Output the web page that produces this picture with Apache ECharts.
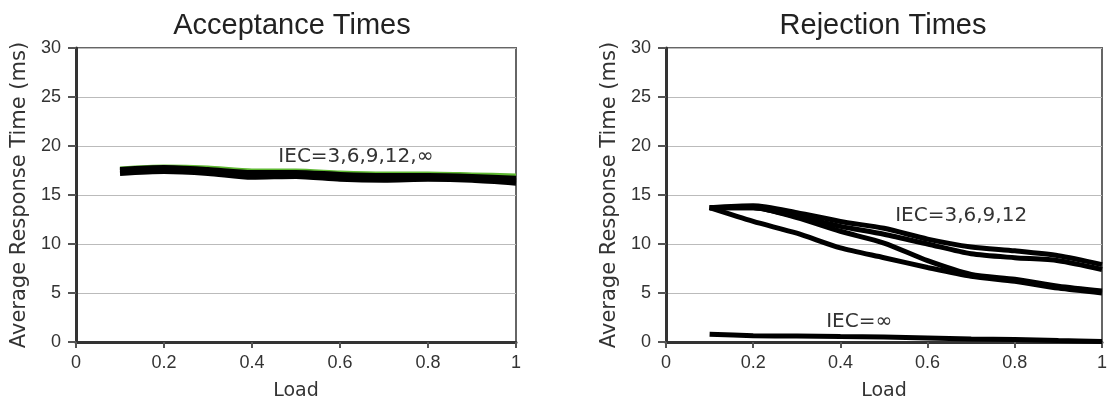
<!DOCTYPE html>
<html>
<head>
<meta charset="utf-8">
<script src="https://cdn.jsdelivr.net/npm/echarts@6/dist/echarts.min.js"></script>
<style>html,body{margin:0;padding:0;background:#fff;}#c{width:1110px;height:406px;}</style>
</head>
<body>
<div id="c"></div>
<script>
var loads = [0.1, 0.2, 0.3, 0.4, 0.5, 0.6, 0.7, 0.8, 0.9, 1.0];
var xTicks = [0, 0.2, 0.4, 0.6, 0.8, 1];
var yTicks = [0, 5, 10, 15, 20, 25, 30];

var accIEC3   = [17.5, 17.7, 17.5, 17.1, 17.2, 16.9, 16.8, 16.9, 16.8, 16.5];
var accIEC6   = [17.2, 17.4, 17.2, 16.8, 16.9, 16.6, 16.5, 16.6, 16.5, 16.2];
var accIEC9   = [17.6, 17.8, 17.6, 17.3, 17.3, 17.1, 17.0, 17.0, 16.9, 16.7];
var accIEC12  = [17.4, 17.6, 17.4, 17.0, 17.1, 16.8, 16.7, 16.8, 16.7, 16.4];
var accIECInf = [17.7, 17.9, 17.8, 17.5, 17.5, 17.3, 17.2, 17.2, 17.1, 17.0];

var rejIEC3   = [13.7, 13.9, 13.2, 12.3, 11.6, 10.5, 9.7, 9.3, 8.8, 7.9];
var rejIEC6   = [13.7, 13.7, 12.8, 11.8, 11.0, 10.0, 9.0, 8.6, 8.3, 7.4];
var rejIEC9   = [13.7, 13.7, 12.7, 11.3, 10.1, 8.3, 6.9, 6.4, 5.7, 5.2];
var rejIEC12  = [13.7, 12.3, 11.1, 9.6, 8.6, 7.6, 6.7, 6.2, 5.5, 5.0];
var rejIECInf = [0.8, 0.65, 0.6, 0.55, 0.5, 0.4, 0.3, 0.25, 0.15, 0.05];

var titles = ['Acceptance Times', 'Rejection Times'];
var xName = 'Load';
var yName = 'Average Response Time (ms)';
var labelAcc = 'IEC=3,6,9,12,\u221E';
var labelRej = 'IEC=3,6,9,12';
var labelRejInf = 'IEC=\u221E';

function pairs(ys) { return loads.map(function (x, i) { return [x, ys[i]]; }); }

var chart = echarts.init(document.getElementById('c'), null, {renderer: 'canvas'});

function xAxis(idx) {
  return {
    type: 'value', gridIndex: idx, min: 0, max: 1, interval: 0.2,
    name: xName, nameLocation: 'middle', nameGap: 40,
    nameTextStyle: {fontFamily: 'DejaVu Sans', fontSize: 19, color: '#333'},
    axisLine: {show: true, lineStyle: {color: '#333', width: 3}},
    axisTick: {show: true, inside: false, length: 6, lineStyle: {color: '#555', width: 2}},
    axisLabel: {fontFamily: 'Liberation Sans', fontSize: 18, color: '#333', margin: 12,
      formatter: function (v) { return xTicks.indexOf(+v.toFixed(1)) >= 0 ? String(+v.toFixed(1)) : ''; }},
    splitLine: {show: false}
  };
}
function yAxis(idx) {
  return {
    type: 'value', gridIndex: idx, min: 0, max: 30, interval: 5,
    name: yName, nameLocation: 'middle', nameGap: 46,
    nameTextStyle: {fontFamily: 'DejaVu Sans', fontSize: 21, color: '#333'},
    axisLine: {show: true, lineStyle: {color: '#333', width: 3}},
    axisTick: {show: true, length: 8, lineStyle: {color: '#555', width: 2}},
    axisLabel: {fontFamily: 'Liberation Sans', fontSize: 18, color: '#333', margin: 15},
    splitLine: {show: true, lineStyle: {color: '#bbb', width: 1}}
  };
}
function line(idx, data, color, width, z, extra) {
  var s = {
    type: 'line', xAxisIndex: idx, yAxisIndex: idx, data: pairs(data),
    showSymbol: false, symbol: 'none', smooth: 0.25, z: z,
    lineStyle: {color: color, width: width}, animation: false
  };
  if (extra) for (var k in extra) s[k] = extra[k];
  return s;
}
function mark(text, x, y) {
  return {
    symbol: 'circle', symbolSize: 0, silent: true, animation: false,
    label: {show: true, position: 'inside', formatter: text, fontFamily: 'DejaVu Sans', fontSize: 20, color: '#333'},
    data: [{coord: [x, y]}]
  };
}

chart.setOption({
  backgroundColor: '#fff',
  animation: false,
  title: [
    {text: titles[0], left: 287, top: 6, textAlign: 'center',
      textStyle: {fontFamily: 'Liberation Sans', fontSize: 29, fontWeight: 'normal', color: '#222'}},
    {text: titles[1], left: 878, top: 6, textAlign: 'center',
      textStyle: {fontFamily: 'Liberation Sans', fontSize: 29, fontWeight: 'normal', color: '#222'}}
  ],
  grid: [
    {left: 76, right: 594, top: 48, bottom: 62, show: true, borderColor: '#666', borderWidth: 2, backgroundColor: 'transparent'},
    {left: 666, right: 4, top: 48, bottom: 62, show: true, borderColor: '#666', borderWidth: 2, backgroundColor: 'transparent'}
  ],
  xAxis: [xAxis(0), xAxis(1)],
  yAxis: [yAxis(0), yAxis(1)],
  series: [
    line(0, accIECInf, '#5fb832', 4, 2),
    line(0, accIEC9, '#000', 5, 3),
    line(0, accIEC3, '#000', 5, 3),
    line(0, accIEC12, '#000', 5, 3),
    line(0, accIEC6, '#000', 5, 3, {markPoint: mark(labelAcc, 0.636, 18.9)}),
    line(1, rejIEC3, '#000', 5, 3, {markPoint: mark(labelRej, 0.677, 12.9)}),
    line(1, rejIEC6, '#000', 5, 3),
    line(1, rejIEC9, '#000', 5, 3),
    line(1, rejIEC12, '#000', 5, 3),
    line(1, rejIECInf, '#000', 5, 3, {markPoint: mark(labelRejInf, 0.443, 2.03)})
  ]
});
</script>
</body>
</html>
